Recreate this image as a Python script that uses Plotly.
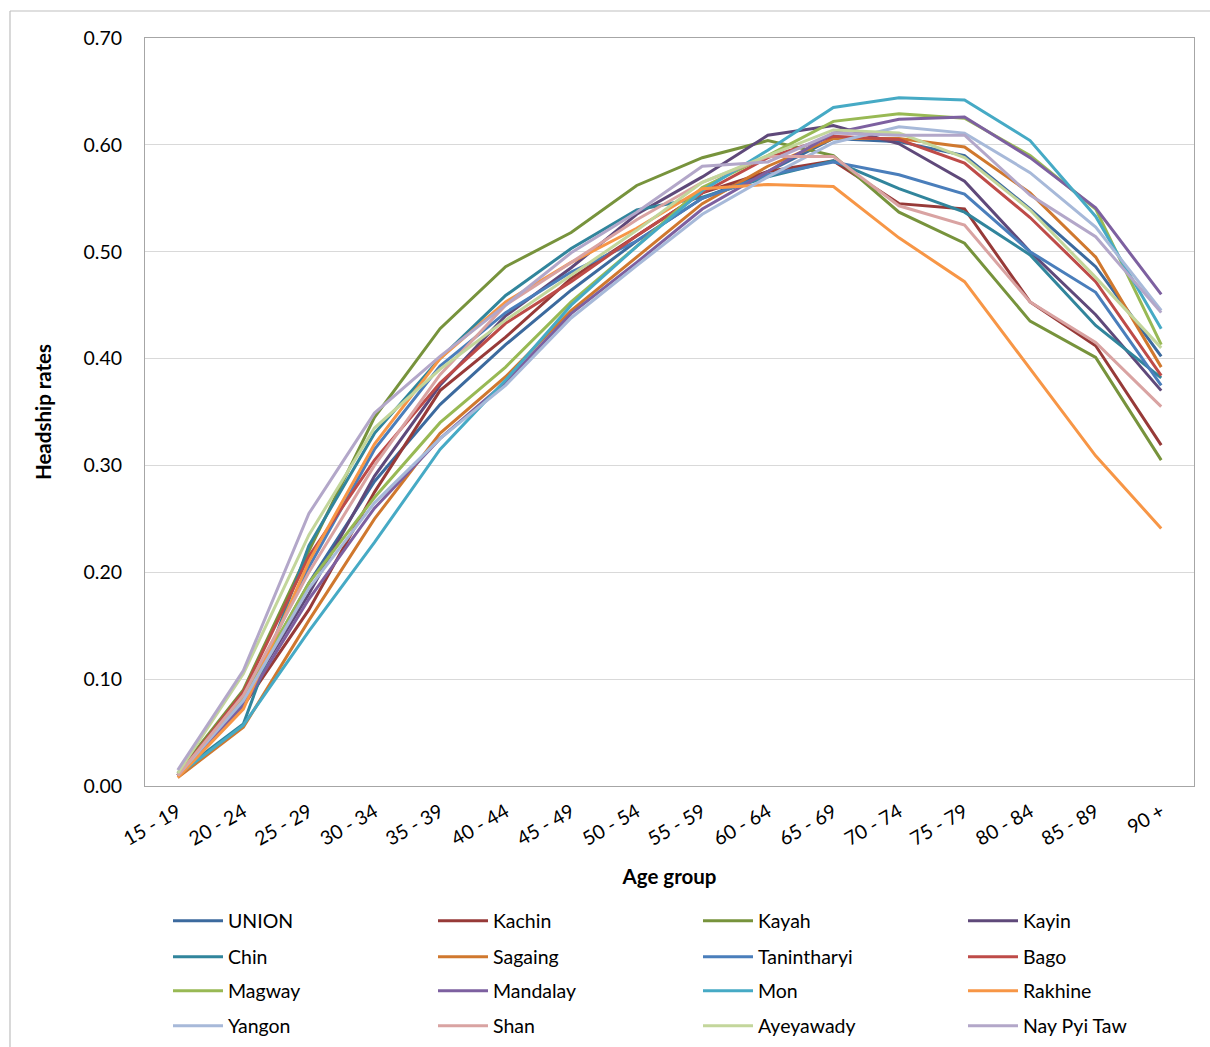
import plotly.graph_objects as go

age_groups = ["15 - 19", "20 - 24", "25 - 29", "30 - 34", "35 - 39", "40 - 44", "45 - 49",
              "50 - 54", "55 - 59", "60 - 64", "65 - 69", "70 - 74", "75 - 79", "80 - 84",
              "85 - 89", "90 +"]

union = [0.010, 0.080, 0.190, 0.285, 0.357, 0.413, 0.464, 0.510, 0.550, 0.575, 0.606, 0.603, 0.590, 0.540, 0.486, 0.402]
kachin = [0.010, 0.075, 0.165, 0.275, 0.370, 0.420, 0.475, 0.515, 0.555, 0.575, 0.585, 0.545, 0.540, 0.453, 0.412, 0.319]
kayah = [0.012, 0.090, 0.220, 0.345, 0.428, 0.486, 0.518, 0.562, 0.588, 0.604, 0.590, 0.537, 0.508, 0.435, 0.401, 0.305]
kayin = [0.010, 0.080, 0.180, 0.290, 0.375, 0.440, 0.485, 0.535, 0.570, 0.609, 0.618, 0.601, 0.566, 0.500, 0.441, 0.370]
chin = [0.012, 0.058, 0.225, 0.330, 0.400, 0.459, 0.503, 0.539, 0.551, 0.570, 0.585, 0.559, 0.537, 0.497, 0.431, 0.382]
sagaing = [0.008, 0.055, 0.155, 0.250, 0.330, 0.383, 0.445, 0.495, 0.545, 0.580, 0.606, 0.606, 0.598, 0.555, 0.495, 0.392]
tanintharyi = [0.010, 0.078, 0.205, 0.315, 0.393, 0.443, 0.481, 0.510, 0.550, 0.572, 0.584, 0.572, 0.554, 0.500, 0.462, 0.375]
bago = [0.010, 0.088, 0.215, 0.305, 0.377, 0.433, 0.472, 0.515, 0.555, 0.588, 0.608, 0.605, 0.583, 0.532, 0.472, 0.384]
magway = [0.010, 0.082, 0.190, 0.270, 0.340, 0.392, 0.453, 0.505, 0.560, 0.590, 0.622, 0.629, 0.625, 0.590, 0.540, 0.413]
mandalay = [0.010, 0.075, 0.175, 0.260, 0.325, 0.378, 0.442, 0.490, 0.540, 0.575, 0.611, 0.624, 0.626, 0.588, 0.541, 0.460]
mon = [0.010, 0.057, 0.145, 0.228, 0.315, 0.380, 0.450, 0.505, 0.557, 0.595, 0.635, 0.644, 0.642, 0.604, 0.533, 0.428]
rakhine = [0.008, 0.072, 0.210, 0.320, 0.400, 0.453, 0.490, 0.522, 0.559, 0.563, 0.561, 0.513, 0.472, 0.390, 0.309, 0.241]
yangon = [0.010, 0.080, 0.185, 0.265, 0.325, 0.375, 0.438, 0.487, 0.535, 0.570, 0.602, 0.617, 0.611, 0.574, 0.523, 0.445]
shan = [0.010, 0.085, 0.200, 0.300, 0.385, 0.450, 0.490, 0.530, 0.565, 0.589, 0.589, 0.543, 0.525, 0.453, 0.415, 0.355]
ayeyawady = [0.012, 0.105, 0.235, 0.335, 0.390, 0.436, 0.478, 0.520, 0.565, 0.590, 0.614, 0.611, 0.588, 0.539, 0.476, 0.410]
nay_pyi_taw = [0.015, 0.108, 0.255, 0.349, 0.402, 0.450, 0.499, 0.537, 0.580, 0.584, 0.611, 0.609, 0.609, 0.553, 0.514, 0.443]

series_names = ["UNION", "Kachin", "Kayah", "Kayin", "Chin", "Sagaing", "Tanintharyi", "Bago",
                "Magway", "Mandalay", "Mon", "Rakhine", "Yangon", "Shan", "Ayeyawady", "Nay Pyi Taw"]
series_values = [union, kachin, kayah, kayin, chin, sagaing, tanintharyi, bago,
                 magway, mandalay, mon, rakhine, yangon, shan, ayeyawady, nay_pyi_taw]
series_colors = ["#3C6A9E", "#973A38", "#77933C", "#5F497A", "#31859C", "#D0782E", "#4A7EBB", "#BE4B48",
                 "#98B954", "#7D60A0", "#46AAC5", "#F79646", "#A7B9D9", "#D9A3A2", "#C3D69B", "#B3A7C9"]

FONT = "Lato, 'Open Sans', sans-serif"
PLOT_TOP, PLOT_BOTTOM, PLOT_LEFT, PLOT_RIGHT = 38, 786, 145, 1194
PH = PLOT_BOTTOM - PLOT_TOP
PW = PLOT_RIGHT - PLOT_LEFT

# legend grid: 4 columns x 4 rows (pixel positions of the line start / row centre)
col_starts = [173, 438, 703, 968]
row_centers = [921, 957, 991, 1026]

fig = go.Figure()
layout_legends = {}
for i, (name, vals, col) in enumerate(zip(series_names, series_values, series_colors)):
    lname = "legend" if i == 0 else f"legend{i + 1}"
    fig.add_trace(go.Scatter(x=age_groups, y=vals, name=name, mode="lines",
                             line=dict(color=col, width=3), legend=lname))
    r, c = divmod(i, 4)
    layout_legends[lname] = dict(
        orientation="v", x=(col_starts[c] - 150) / PW, xanchor="left",
        y=(PLOT_BOTTOM - row_centers[r]) / PH, yanchor="middle",
        itemwidth=50, font=dict(family=FONT, size=19.5, color="#000000"),
        bgcolor="rgba(0,0,0,0)")

fig.update_layout(
    width=1210, height=1047,
    margin=dict(l=PLOT_LEFT, r=1210 - PLOT_RIGHT, t=PLOT_TOP, b=1047 - PLOT_BOTTOM, autoexpand=False),
    paper_bgcolor="white", plot_bgcolor="white",
    font=dict(family=FONT, size=19.5, color="#000000"),
    showlegend=True,
    xaxis=dict(type="category", tickangle=-30, showgrid=False, showline=True,
               linecolor="#A6A6A6", linewidth=1, mirror=True, ticks="",
               tickfont=dict(family=FONT, size=19.5), ticklabelstandoff=6,
               title=dict(text="<b>Age group</b>", font=dict(family=FONT, size=20.5), standoff=20),
               range=[-0.5, 15.5]),
    yaxis=dict(range=[0, 0.70], dtick=0.1, tickformat=".2f", showgrid=True,
               gridcolor="#D9D9D9", gridwidth=1.3, showline=True, linecolor="#A6A6A6",
               linewidth=1, mirror=True, ticks="", zeroline=False,
               tickfont=dict(family=FONT, size=19.5), ticklabelstandoff=18,
               title=dict(text="<b>Headship rates</b>", font=dict(family=FONT, size=20.5), standoff=26)),
    **layout_legends,
)

# outer chart-area border: only its top and left edges fall inside the page
fig.add_shape(type="line", xref="paper", yref="paper",
              x0=(10 - PLOT_LEFT) / PW, x1=(1260 - PLOT_LEFT) / PW,
              y0=(PLOT_BOTTOM - 11) / PH, y1=(PLOT_BOTTOM - 11) / PH,
              line=dict(color="#BFBFBF", width=1.2))
fig.add_shape(type="line", xref="paper", yref="paper",
              x0=(10 - PLOT_LEFT) / PW, x1=(10 - PLOT_LEFT) / PW,
              y0=(PLOT_BOTTOM - 1100) / PH, y1=(PLOT_BOTTOM - 11) / PH,
              line=dict(color="#BFBFBF", width=1.2))

fig.write_html("out.html")
